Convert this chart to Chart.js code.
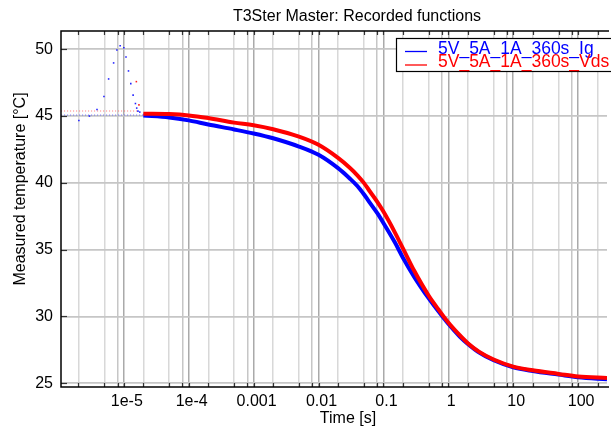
<!DOCTYPE html>
<html>
<head>
<meta charset="utf-8">
<title>T3Ster Master: Recorded functions</title>
<script src="https://cdn.jsdelivr.net/npm/chart.js@4.4.0/dist/chart.umd.min.js"></script>
<style>
  html, body { margin: 0; padding: 0; background: #fff; }
  #wrap { width: 611px; height: 427px; }
</style>
</head>
<body>
<div id="wrap"><canvas id="chart" width="611" height="427"></canvas></div>
<script>
// Chart data
const seriesNames = ['5V_5A_1A_360s_Ig', '5V_5A_1A_360s_Vds'];

// main Ig curve
const igTime = [2e-5, 5e-5, 1e-4, 2e-4, 5e-4, 1e-3, 2e-3, 5e-3, 1e-2, 2e-2, 3e-2, 4e-2, 5e-2, 6e-2, 8e-2,
  0.1, 0.15, 0.2, 0.3, 0.5, 0.7, 1, 1.5, 2, 3, 5, 10, 20, 50, 100, 279];
const igTemp = [45.05, 44.9, 44.68, 44.37, 44.0, 43.7, 43.34, 42.72, 42.1, 41.1, 40.35, 39.75, 39.15, 38.6, 37.75,
  37.0, 35.55, 34.4, 32.95, 31.35, 30.4, 29.45, 28.5, 27.95, 27.3, 26.72, 26.2, 25.92, 25.65, 25.45, 25.3];

// main Vds curve
const vdsTime = [2e-5, 5e-5, 1e-4, 2e-4, 5e-4, 1e-3, 2e-3, 5e-3, 1e-2, 2e-2, 3e-2, 4e-2, 5e-2, 6e-2, 8e-2,
  0.1, 0.15, 0.2, 0.3, 0.5, 0.7, 1, 1.5, 2, 3, 5, 10, 20, 50, 100, 279];
const vdsTemp = [45.18, 45.15, 45.05, 44.85, 44.51, 44.32, 44.02, 43.46, 42.85, 41.87, 41.15, 40.55, 40.0, 39.45, 38.6,
  37.85, 36.3, 35.1, 33.4, 31.55, 30.55, 29.55, 28.6, 28.0, 27.35, 26.78, 26.25, 25.97, 25.7, 25.5, 25.4];

// early sparse samples (spike)
const igSpikeTime = [2.03e-6, 2.95e-6, 3.86e-6, 4.94e-6, 5.83e-6, 6.96e-6, 7.82e-6, 8.78e-6, 1.0e-5,
  1.08e-5, 1.18e-5, 1.28e-5, 1.39e-5, 1.51e-5, 1.58e-5, 1.65e-5, 1.76e-5];
const igSpikeTemp = [44.67, 45.0, 45.49, 46.46, 47.78, 48.98, 49.95, 50.27, 50.12,
  49.43, 48.38, 47.43, 46.57, 45.94, 45.6, 45.37, 45.3];
const vdsSpikeTime = [1.56e-5, 1.71e-5];
const vdsSpikeTemp = [47.58, 45.84];

// dotted start lines
const igBaseTime = [1.08e-6, 2.2e-5];
const igBaseTemp = [45.08, 45.08];
const vdsBaseTime = [1.08e-6, 1.6e-5];
const vdsBaseTemp = [45.38, 45.38];

// axes
const decadeTicks = [1e-5, 1e-4, 1e-3, 0.01, 0.1, 1, 10, 100];
const decadeLabels = ['1e-5', '1e-4', '0.001', '0.01', '0.1', '1', '10', '100'];
const minorSteps = [2, 5, 8];
const yTicks = [25, 30, 35, 40, 45, 50];

const X_MIN = 1.076e-6, X_MAX = 279;
const Y_MIN = 24.72, Y_MAX = 51.37;
const FONT = 'Liberation Sans, Arial, sans-serif';
const BLUE = '#0000ff', RED = '#ff0000';

function points(xs, ys) {
  return xs.map((x, i) => ({ x: x, y: ys[i] }));
}

function labelFor(v) {
  const i = decadeTicks.findIndex(d => Math.abs(d - v) / d < 1e-6);
  return i >= 0 ? decadeLabels[i] : '';
}

// mantissa of a tick value: 1, 2, 5 or 8
function mantissa(v) {
  const m = v / Math.pow(10, Math.floor(Math.log10(v) + 1e-9));
  return Math.round(m);
}

// frame, inward ticks, title, axis titles and legend
const decorPlugin = {
  id: 'decor',
  afterDraw(chart) {
    const ctx = chart.ctx;
    const a = chart.chartArea;
    const xs = chart.scales.x, ys = chart.scales.y;
    ctx.save();

    // tick marks pointing into the plot
    ctx.lineWidth = 1.2;
    ctx.strokeStyle = '#333';
    xs.ticks.forEach(t => {
      const px = Math.round(xs.getPixelForValue(t.value)) + 0.5;
      ctx.beginPath();
      ctx.moveTo(px, a.top); ctx.lineTo(px, a.top + 4);
      ctx.moveTo(px, a.bottom); ctx.lineTo(px, a.bottom - 4);
      ctx.stroke();
    });
    ys.ticks.forEach(t => {
      const py = Math.round(ys.getPixelForValue(t.value)) + 0.5;
      ctx.beginPath();
      ctx.moveTo(a.left, py); ctx.lineTo(a.left + 6, py);
      ctx.stroke();
    });

    // frame
    ctx.strokeStyle = '#000';
    ctx.lineWidth = 1.5;
    ctx.beginPath();
    ctx.moveTo(a.right + 2, a.top);
    ctx.lineTo(a.left, a.top);
    ctx.lineTo(a.left, a.bottom);
    ctx.lineTo(a.right + 2, a.bottom);
    ctx.stroke();

    // title
    ctx.fillStyle = '#000';
    ctx.textAlign = 'center';
    ctx.textBaseline = 'middle';
    ctx.font = '16px ' + FONT;
    ctx.fillText('T3Ster Master: Recorded functions', 357, 17);

    // axis titles
    ctx.fillText('Time [s]', 348, 419);
    ctx.save();
    ctx.translate(21, 189);
    ctx.rotate(-Math.PI / 2);
    ctx.fillText('Measured temperature [°C]', 0, 0);
    ctx.restore();

    // legend box
    ctx.fillStyle = '#fff';
    ctx.fillRect(396, 38, 230, 33);
    ctx.strokeStyle = '#000';
    ctx.lineWidth = 1.2;
    ctx.strokeRect(396.5, 38.5, 230, 33);
    ctx.textAlign = 'left';
    ctx.font = '17.5px ' + FONT;
    [BLUE, RED].forEach((c, i) => {
      const ly = 49 + i * 13.5;
      ctx.strokeStyle = c;
      ctx.lineWidth = 1.3;
      ctx.beginPath();
      ctx.moveTo(405, ly + 2.5); ctx.lineTo(427, ly + 2.5);
      ctx.stroke();
      ctx.fillStyle = c;
      ctx.fillText(seriesNames[i], 438, ly);
    });
    ctx.restore();
  }
};

const ctx = document.getElementById('chart');
new Chart(ctx, {
  type: 'line',
  data: {
    datasets: [
      {
        label: seriesNames[0], data: points(igTime, igTemp), order: 2,
        borderColor: BLUE, borderWidth: 4, pointRadius: 0, cubicInterpolationMode: 'monotone'
      },
      {
        label: seriesNames[1], data: points(vdsTime, vdsTemp), order: 1,
        borderColor: RED, borderWidth: 4, pointRadius: 0, cubicInterpolationMode: 'monotone'
      },
      {
        label: 'igSpike', data: points(igSpikeTime, igSpikeTemp), order: 0, showLine: false,
        pointStyle: 'rect', pointRadius: 1.1, backgroundColor: '#2020ff', borderWidth: 0
      },
      {
        label: 'vdsSpike', data: points(vdsSpikeTime, vdsSpikeTemp), order: 0, showLine: false,
        pointStyle: 'rect', pointRadius: 1.1, backgroundColor: '#ff2020', borderWidth: 0
      },
      {
        label: 'igBase', data: points(igBaseTime, igBaseTemp), order: 3,
        borderColor: 'rgba(60,60,255,0.7)', borderWidth: 1.2, borderDash: [1, 2], pointRadius: 0
      },
      {
        label: 'vdsBase', data: points(vdsBaseTime, vdsBaseTemp), order: 3,
        borderColor: 'rgba(255,60,60,0.7)', borderWidth: 1.2, borderDash: [1, 2], pointRadius: 0
      }
    ]
  },
  options: {
    responsive: false,
    animation: false,
    layout: { padding: { left: 0, right: 0, top: 31, bottom: 0 } },
    plugins: { legend: { display: false }, title: { display: false }, tooltip: { enabled: false } },
    scales: {
      x: {
        type: 'logarithmic',
        min: X_MIN,
        max: X_MAX,
        afterBuildTicks: (scale) => {
          const ticks = [];
          for (let k = -6; k <= 2; k++) {
            [1].concat(minorSteps).forEach(m => {
              const v = m * Math.pow(10, k);
              if (v >= X_MIN && v <= X_MAX) ticks.push({ value: v });
            });
          }
          scale.ticks = ticks;
        },
        afterFit: (scale) => { scale.height = 40; },
        grid: {
          drawTicks: false,
          lineWidth: 1.5,
          color: (c) => {
            if (!c.tick) return '#d8d8d8';
            const m = mantissa(c.tick.value);
            if (m === 1) return '#aaaaaa';
            if (m === 8) return '#c6c6c6';
            return '#d8d8d8';
          }
        },
        border: { display: false },
        ticks: {
          autoSkip: false,
          maxRotation: 0,
          padding: 5,
          labelOffset: 3,
          color: '#000',
          font: { family: FONT, size: 16 },
          callback: (v) => labelFor(v)
        }
      },
      y: {
        min: Y_MIN,
        max: Y_MAX,
        afterBuildTicks: (scale) => { scale.ticks = yTicks.map(v => ({ value: v })); },
        afterFit: (scale) => { scale.width = 61; },
        grid: { drawTicks: false, lineWidth: 1.8, color: '#c6c6c6' },
        border: { display: false },
        ticks: {
          padding: 8,
          color: '#000',
          font: { family: FONT, size: 16 }
        }
      }
    }
  },
  plugins: [decorPlugin]
});
</script>
</body>
</html>
